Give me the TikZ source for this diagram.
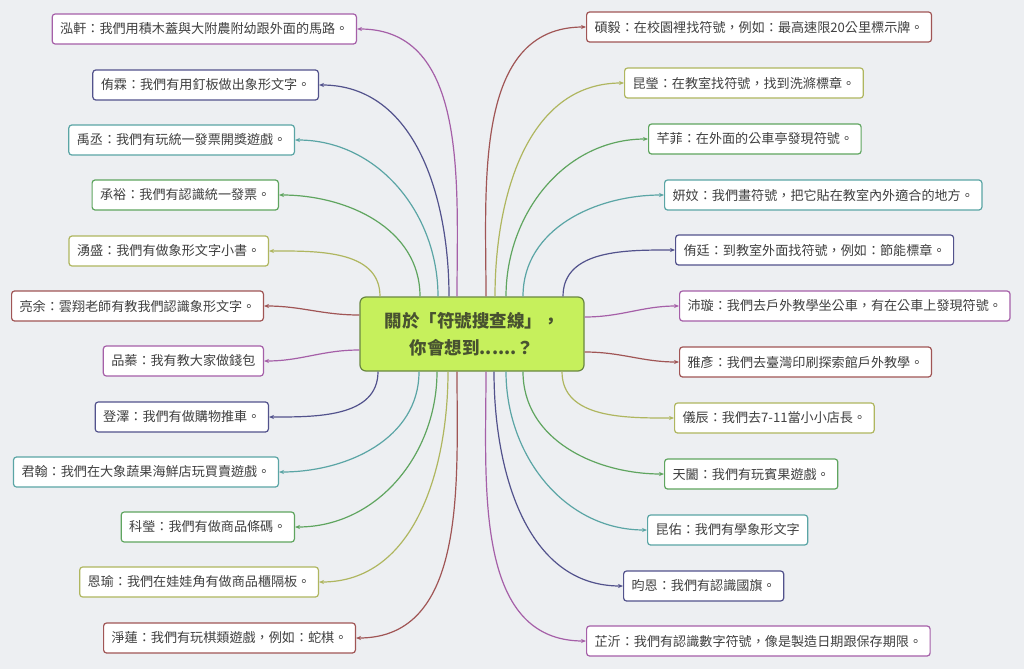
\documentclass[tikz,border=0pt]{standalone}
\usepackage{fontspec}
\setmainfont{Noto Sans CJK TC}
\usetikzlibrary{arrows.meta}
\definecolor{bgray}{RGB}{237,239,242}
\definecolor{lpurple}{RGB}{165,95,168}
\definecolor{lnavy}{RGB}{82,82,140}
\definecolor{lteal}{RGB}{90,165,165}
\definecolor{lgreen}{RGB}{95,165,95}
\definecolor{lolive}{RGB}{175,182,95}
\definecolor{lred}{RGB}{160,85,85}
\definecolor{hubfill}{RGB}{198,240,92}
\definecolor{hubline}{RGB}{105,135,65}
\definecolor{hubtext}{RGB}{72,82,48}
\tikzset{
	leaf/.style={draw=#1, fill=white, rounded corners=3pt, line width=1.2pt,
		minimum height=30pt, inner xsep=8pt, inner ysep=2pt,
		text=black!75, font=\fontsize{13.1}{15}\selectfont},
	link/.style={draw=#1, line width=1.2pt, -{Stealth[length=5pt,width=4pt]}},
	hub/.style={draw=hubline, fill=hubfill, rounded corners=6pt, line width=1.2pt,
		minimum width=224pt, minimum height=74pt, align=center, text=hubtext,
		font=\fontsize{17.5}{27}\selectfont\bfseries}
}

\begin{document}
\begin{tikzpicture}[x=1pt,y=-1pt]
	\fill[bgray] (0,0) rectangle (1024,669);
	\useasboundingbox (0,0) rectangle (1024,669);
	\node[hub] (m) at (472,334) {關於「符號搜查線」，\\你會想到......？};
	\node[leaf=lpurple, anchor=east] (a0) at (357,29) {泓軒：我們用積木蓋與大附農附幼跟外面的馬路。};
	\node[leaf=lnavy, anchor=east] (a1) at (319,85) {侑霖：我們有用釘板做出象形文字。};
	\node[leaf=lteal, anchor=east] (a2) at (295,140) {禹丞：我們有玩統一發票開獎遊戲。};
	\node[leaf=lgreen, anchor=east] (a3) at (279,195) {承裕：我們有認識統一發票。};
	\node[leaf=lolive, anchor=east] (a4) at (269,251) {湧盛：我們有做象形文字小書。};
	\node[leaf=lred, anchor=east] (a5) at (264,306) {亮余：雲翔老師有教我們認識象形文字。};
	\node[leaf=lpurple, anchor=east] (a6) at (264,361) {品蓁：我有教大家做錢包};
	\node[leaf=lnavy, anchor=east] (a7) at (269,417) {登澤：我們有做購物推車。};
	\node[leaf=lteal, anchor=east] (a8) at (279,472) {君翰：我們在大象蔬果海鮮店玩買賣遊戲。};
	\node[leaf=lgreen, anchor=east] (a9) at (295,527) {科瑩：我們有做商品條碼。};
	\node[leaf=lolive, anchor=east] (a10) at (319,582) {恩瑜：我們在娃娃角有做商品櫃隔板。};
	\node[leaf=lred, anchor=east] (a11) at (356,638) {淨蓮：我們有玩棋類遊戲，例如：蛇棋。};
	\node[leaf=lred, anchor=west] (b0) at (586,27) {碩毅：在校園裡找符號，例如：最高速限20公里標示牌。};
	\node[leaf=lolive, anchor=west] (b1) at (624,83) {昆瑩：在教室找符號，找到洗滌標章。};
	\node[leaf=lgreen, anchor=west] (b2) at (648,139) {芊菲：在外面的公車亭發現符號。};
	\node[leaf=lteal, anchor=west] (b3) at (664,195) {妍妏：我們畫符號，把它貼在教室內外適合的地方。};
	\node[leaf=lnavy, anchor=west] (b4) at (675,250) {侑廷：到教室外面找符號，例如：節能標章。};
	\node[leaf=lpurple, anchor=west] (b5) at (679,306) {沛璇：我們去戶外教學坐公車，有在公車上發現符號。};
	\node[leaf=lred, anchor=west] (b6) at (679,362) {雅彥：我們去臺灣印刷探索館戶外教學。};
	\node[leaf=lolive, anchor=west] (b7) at (674,418) {儀辰：我們去7-11當小小店長。};
	\node[leaf=lgreen, anchor=west] (b8) at (664,474) {天闔：我們有玩賓果遊戲。};
	\node[leaf=lteal, anchor=west] (b9) at (647,530) {昆佑：我們有學象形文字};
	\node[leaf=lnavy, anchor=west] (b10) at (623,586) {昀恩：我們有認識國旗。};
	\node[leaf=lpurple, anchor=west] (b11) at (586,641) {芷沂：我們有認識數字符號，像是製造日期跟保存期限。};
	\draw[link=lpurple] ([xshift=-15pt]m.north) to[out=90,in=0] (a0.east);
	\draw[link=lnavy] ([xshift=-23pt]m.north) to[out=90,in=0] (a1.east);
	\draw[link=lteal] ([xshift=-34pt]m.north) to[out=90,in=0] (a2.east);
	\draw[link=lgreen] ([xshift=-52pt]m.north) to[out=90,in=0] (a3.east);
	\draw[link=lolive] ([xshift=-92pt]m.north) to[out=90,in=0] (a4.east);
	\draw[link=lred] ([yshift=19pt]m.west) to[out=180,in=0] (a5.east);
	\draw[link=lpurple] ([yshift=-16pt]m.west) to[out=180,in=0] (a6.east);
	\draw[link=lnavy] ([xshift=-94pt]m.south) to[out=-90,in=0] (a7.east);
	\draw[link=lteal] ([xshift=-53pt]m.south) to[out=-90,in=0] (a8.east);
	\draw[link=lgreen] ([xshift=-35pt]m.south) to[out=-90,in=0] (a9.east);
	\draw[link=lolive] ([xshift=-24pt]m.south) to[out=-90,in=0] (a10.east);
	\draw[link=lred] ([xshift=-15pt]m.south) to[out=-90,in=0] (a11.east);
	\draw[link=lred] ([xshift=14pt]m.north) to[out=90,in=180] (b0.west);
	\draw[link=lolive] ([xshift=23pt]m.north) to[out=90,in=180] (b1.west);
	\draw[link=lgreen] ([xshift=34pt]m.north) to[out=90,in=180] (b2.west);
	\draw[link=lteal] ([xshift=51pt]m.north) to[out=90,in=180] (b3.west);
	\draw[link=lnavy] ([xshift=91pt]m.north) to[out=90,in=180] (b4.west);
	\draw[link=lpurple] ([yshift=17pt]m.east) to[out=0,in=180] (b5.west);
	\draw[link=lred] ([yshift=-18pt]m.east) to[out=0,in=180] (b6.west);
	\draw[link=lolive] ([xshift=90pt]m.south) to[out=-90,in=180] (b7.west);
	\draw[link=lgreen] ([xshift=51pt]m.south) to[out=-90,in=180] (b8.west);
	\draw[link=lteal] ([xshift=34pt]m.south) to[out=-90,in=180] (b9.west);
	\draw[link=lnavy] ([xshift=22pt]m.south) to[out=-90,in=180] (b10.west);
	\draw[link=lpurple] ([xshift=14pt]m.south) to[out=-90,in=180] (b11.west);
\end{tikzpicture}
\end{document}
